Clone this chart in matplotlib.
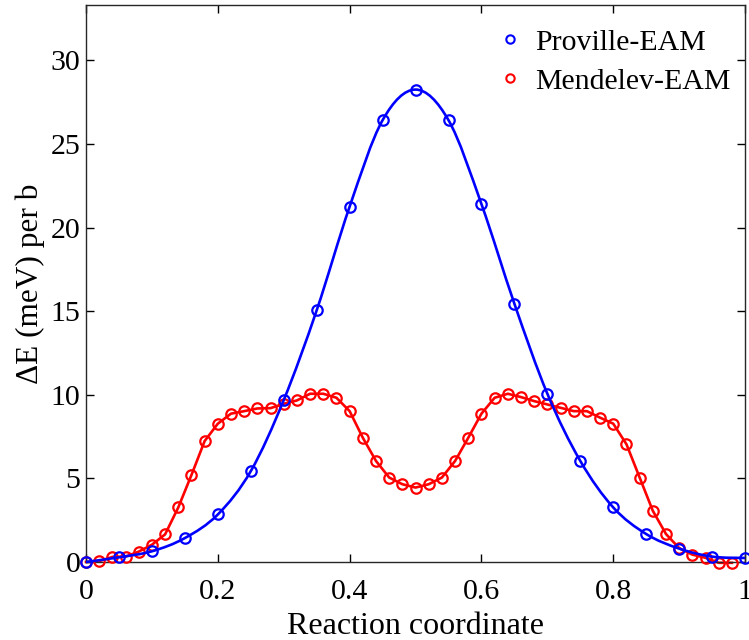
import numpy as np
import matplotlib
matplotlib.use('Agg')
import matplotlib.pyplot as plt
from matplotlib.path import Path
from matplotlib.patches import PathPatch
from matplotlib.lines import Line2D

plt.rcParams['font.family'] = ['Liberation Serif', 'DejaVu Serif']
plt.rcParams['mathtext.fontset'] = 'stix'

# ---- data ----
proville_x = [0.00, 0.05, 0.10, 0.15, 0.20, 0.25, 0.30, 0.35, 0.40, 0.45, 0.50,
              0.55, 0.60, 0.65, 0.70, 0.75, 0.80, 0.85, 0.90, 0.95, 1.00]
proville_y = [0.00, 0.28, 0.64, 1.43, 2.84, 5.43, 9.68, 15.05, 21.25, 26.42, 28.25,
              26.42, 21.40, 15.44, 10.06, 6.04, 3.26, 1.67, 0.80, 0.32, 0.24]

mendelev_x = [0.00, 0.02, 0.04, 0.06, 0.08, 0.10, 0.12, 0.14, 0.16, 0.18,
              0.20, 0.22, 0.24, 0.26, 0.28, 0.30, 0.32, 0.34, 0.36, 0.38,
              0.40, 0.42, 0.44, 0.46, 0.48, 0.50, 0.52, 0.54, 0.56, 0.58,
              0.60, 0.62, 0.64, 0.66, 0.68, 0.70, 0.72, 0.74, 0.76, 0.78,
              0.80, 0.82, 0.84, 0.86, 0.88, 0.90, 0.92, 0.94, 0.96, 0.98]
mendelev_y = [0.00, 0.05, 0.30, 0.32, 0.62, 1.03, 1.65, 3.26, 5.20, 7.23,
              8.27, 8.87, 9.02, 9.18, 9.20, 9.46, 9.66, 10.06, 10.06, 9.82,
              9.02, 7.43, 6.04, 5.05, 4.65, 4.45, 4.65, 5.05, 6.04, 7.43,
              8.87, 9.82, 10.06, 9.86, 9.62, 9.42, 9.22, 9.02, 9.02, 8.63,
              8.27, 7.04, 5.05, 3.06, 1.67, 0.83, 0.44, 0.25, -0.05, -0.05]

series_labels = ['Proville-EAM', 'Mendelev-EAM']
xticks = [0, 0.2, 0.4, 0.6, 0.8, 1]
xtick_labels = ['0', '0.2', '0.4', '0.6', '0.8', '1']
yticks = [0, 5, 10, 15, 20, 25, 30]

BLUE = '#0000ff'
RED = '#ff0000'


def smooth_path(xs, ys):
    """Catmull-Rom curve through the given points as cubic Bezier segments."""
    P = np.column_stack([xs, ys]).astype(float)
    n = len(P)
    verts = [tuple(P[0])]
    codes = [Path.MOVETO]
    for i in range(n - 1):
        p0 = P[i - 1] if i > 0 else P[i]
        p1 = P[i]
        p2 = P[i + 1]
        p3 = P[i + 2] if i + 2 < n else P[i + 1]
        c1 = p1 + (p2 - p0) / 6.0
        c2 = p2 - (p3 - p1) / 6.0
        verts += [tuple(c1), tuple(c2), tuple(p2)]
        codes += [Path.CURVE4] * 3
    return Path(verts, codes)


fig = plt.figure(figsize=(7.49, 6.40), dpi=100)
ax = fig.add_axes([0.1148, 0.1219, 0.88, 0.8701])

# Mendelev (red)
ax.plot(mendelev_x, mendelev_y, '-', color=RED, lw=1.9, zorder=2, clip_on=False)
ax.plot(mendelev_x, mendelev_y, 'o', color=RED, mfc='none', ms=7.5, mew=1.6,
        zorder=3, clip_on=False)

# Proville (blue) smooth line
patch = PathPatch(smooth_path(proville_x, proville_y), fill=False, edgecolor=BLUE,
                  lw=1.9, zorder=4, clip_on=False)
ax.add_patch(patch)
ax.plot(proville_x, proville_y, 'o', color=BLUE, mfc='none', ms=7.5, mew=1.6,
        zorder=5, clip_on=False)

ax.set_xlim(0, 1)
ax.set_ylim(0, 33.3)
ax.set_xticks(xticks)
ax.set_xticklabels(xtick_labels)
ax.set_yticks(yticks)

ax.tick_params(direction='in', length=6, width=1, top=True, right=True,
               labelsize=21.5, colors='black')
ax.tick_params(axis='x', pad=12)
ax.tick_params(axis='y', pad=4)
for s in ax.spines.values():
    s.set_linewidth(1.0)
    s.set_color('#262626')

ax.set_xlabel('Reaction coordinate', fontsize=23, labelpad=5)
ax.set_ylabel('ΔE (meV) per b', fontsize=22.5, labelpad=4)

handles = [Line2D([], [], ls='none', marker='o', mfc='none', mec=BLUE, ms=6, mew=1.5),
           Line2D([], [], ls='none', marker='o', mfc='none', mec=RED, ms=6, mew=1.5)]
ax.legend(handles, series_labels, loc='upper right', frameon=False, fontsize=21.5,
          handlelength=1.0, handletextpad=0.35, labelspacing=0.4,
          bbox_to_anchor=(1.01, 0.995), borderaxespad=0.3)

fig.savefig('out.png', dpi=100)
